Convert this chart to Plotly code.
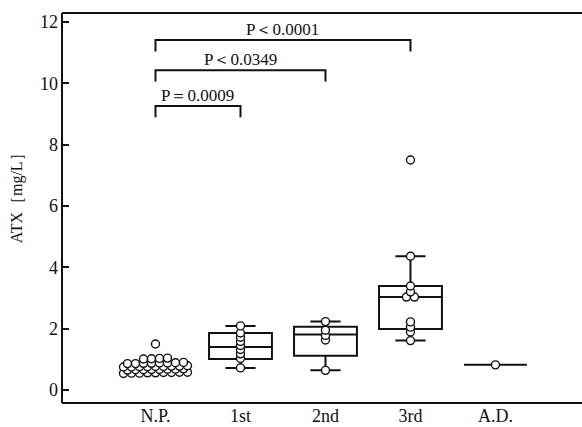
import plotly.graph_objects as go

# ---- data -------------------------------------------------------------
groups = ["N.P.", "1st", "2nd", "3rd", "A.D."]
positions = [0, 1, 2, 3, 4]

# individual ATX measurements (mg/L) per group
np_values = [1.50,
             1.04, 1.03, 1.02, 1.01,
             0.90, 0.89, 0.88, 0.88, 0.87, 0.87, 0.86, 0.86,
             0.79, 0.78, 0.78, 0.77, 0.77, 0.76, 0.76, 0.75, 0.75,
             0.69, 0.68, 0.68, 0.67, 0.67, 0.66, 0.66, 0.65,
             0.58, 0.58, 0.57, 0.57, 0.56, 0.56, 0.55, 0.55, 0.54]
first_values = [2.09, 1.86, 1.72, 1.58, 1.45, 1.32, 1.18, 1.03, 0.72]
second_values = [2.23, 1.95, 1.78, 1.63, 0.64]
third_values = [7.50, 4.36, 3.39, 3.20, 3.03, 3.03, 2.22, 2.05, 1.89, 1.61]
ad_values = [0.82]

# box summary statistics per group
box_q1 = [0.60, 1.01, 1.12, 1.99, 0.82]
box_median = [0.70, 1.40, 1.81, 3.03, 0.82]
box_q3 = [0.80, 1.86, 2.06, 3.39, 0.82]
box_low = [0.55, 0.72, 0.64, 1.61, 0.82]
box_high = [1.04, 2.09, 2.23, 4.36, 0.82]

# significance brackets
bracket_from = [0, 0, 0]
bracket_to = [1, 2, 3]
bracket_y = [9.26, 10.43, 11.41]
bracket_text = ["P＝0.0009", "P＜0.0349", "P＜0.0001"]

# ---- helpers ----------------------------------------------------------
PX_PER_X = 85.0      # horizontal pixels per category step
DOT_SPACING = 8.0    # px between neighbouring dots of equal value
TOL = 0.06           # values closer than this are spread side by side


def swarm(values, center):
    """Spread near-equal values horizontally around the category centre."""
    vals = sorted(values)
    xs, ys = [], []
    i = 0
    while i < len(vals):
        j = i
        while j < len(vals) and vals[j] - vals[i] < TOL:
            j += 1
        row = vals[i:j]
        n = len(row)
        for k, v in enumerate(row):
            off = (k - (n - 1) / 2) * DOT_SPACING / PX_PER_X
            xs.append(center + off)
            ys.append(v)
        i = j
    return xs, ys


FONT = "Liberation Serif"
INK = "#111111"

fig = go.Figure()

# boxes
for g, pos, q1, med, q3, lo, hi in zip(groups, positions, box_q1, box_median,
                                        box_q3, box_low, box_high):
    fig.add_trace(go.Box(
        x=[pos], q1=[q1], median=[med], q3=[q3],
        lowerfence=[lo], upperfence=[hi],
        width=0.74, whiskerwidth=0.48,
        boxpoints=False,
        fillcolor="white",
        line=dict(color=INK, width=2),
        name=g, showlegend=False, hoverinfo="skip",
    ))

# individual points
all_x, all_y = [], []
for pos, vals in zip(positions, [np_values, first_values, second_values,
                                 third_values, ad_values]):
    xs, ys = swarm(vals, pos)
    all_x += xs
    all_y += ys

fig.add_trace(go.Scatter(
    x=all_x, y=all_y, mode="markers",
    marker=dict(size=8, color="white", line=dict(color=INK, width=1.4)),
    showlegend=False, hoverinfo="skip",
))

# significance brackets
DROP = 0.37
for a, b, y, t in zip(bracket_from, bracket_to, bracket_y, bracket_text):
    fig.add_trace(go.Scatter(
        x=[a, a, b, b], y=[y - DROP, y, y, y - DROP],
        mode="lines", line=dict(color=INK, width=2),
        showlegend=False, hoverinfo="skip",
    ))
    fig.add_annotation(
        x=(a + b) / 2, y=y, text=t, showarrow=False,
        yanchor="bottom", yshift=-1,
        font=dict(family=FONT, size=17, color=INK),
    )

# y-axis title, placed a little above the plot's vertical centre
fig.add_annotation(
    xref="paper", yref="paper", x=-0.085, y=0.535,
    text="ATX［mg/L］", textangle=-90, showarrow=False,
    xanchor="center", yanchor="middle",
    font=dict(family=FONT, size=16, color=INK),
)

# open frame: left, top and bottom lines
for yy in (0, 1):
    fig.add_shape(type="line", xref="paper", yref="paper",
                  x0=0, x1=1, y0=yy, y1=yy, line=dict(color=INK, width=2))
fig.add_shape(type="line", xref="paper", yref="paper",
              x0=0, x1=0, y0=0, y1=1, line=dict(color=INK, width=2))

fig.update_layout(
    template="none",
    width=582, height=427,
    margin=dict(l=62, r=0, t=13, b=24, pad=0),
    plot_bgcolor="white", paper_bgcolor="white",
    font=dict(family=FONT, size=18, color=INK),
    showlegend=False,
)

fig.update_xaxes(
    range=[-1.1, 5.018], automargin=False,
    tickvals=positions, ticktext=groups,
    ticks="", showline=False,
    showgrid=False, zeroline=False,
    tickfont=dict(family=FONT, size=18, color=INK),
)
fig.update_yaxes(
    range=[-0.424, 12.293], automargin=False,
    tickvals=[0, 2, 4, 6, 8, 10, 12],
    ticks="inside", ticklen=7, tickwidth=2, tickcolor=INK,
    showline=False,
    showgrid=False, zeroline=False,
    tickfont=dict(family=FONT, size=18, color=INK),
    ticklabelstandoff=3,
)

fig.write_html("out.html", config={"displayModeBar": False})
